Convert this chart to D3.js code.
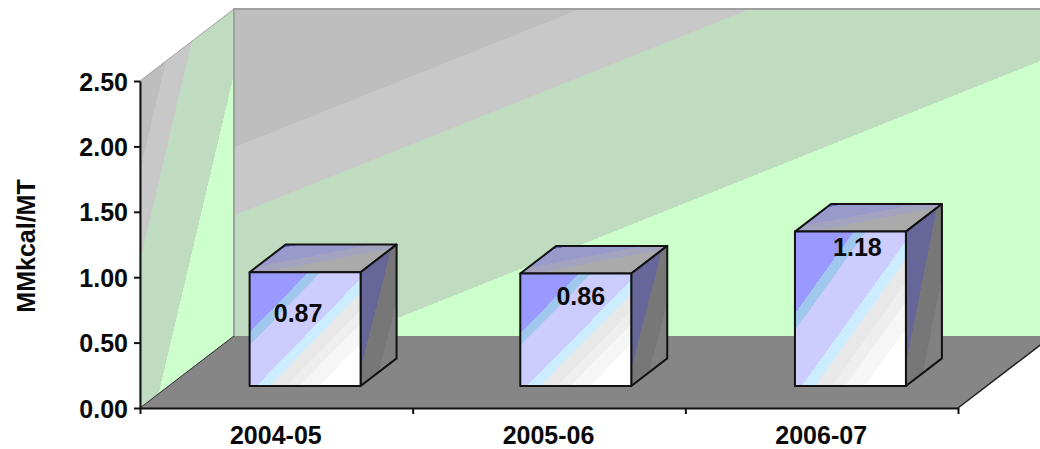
<!DOCTYPE html>
<html>
<head>
<meta charset="utf-8">
<script src="https://cdn.jsdelivr.net/npm/d3@7/dist/d3.min.js"></script>
<style>
  html, body { margin: 0; padding: 0; background: #fff; }
  svg { display: block; }
  text { font-family: "Liberation Sans", Arial, sans-serif; font-weight: bold; fill: #0a0a0a; font-size: 25px; }
</style>
</head>
<body>
<div id="chart"></div>
<script>
// Energy intensity per year
const categories = ["2004-05", "2005-06", "2006-07"];
const values = [0.87, 0.86, 1.18];
const valueLabels = ["0.87", "0.86", "1.18"];
const yTicks = [0, 0.5, 1, 1.5, 2, 2.5];
const yTitle = "MMkcal/MT";

const width = 1040, height = 449;
const depth = { dx: 94, dy: -72 };           // full floor depth in screen pixels
const barDepth = { front: 0.306, back: 0.689 }; // bar placement along the floor depth

const svg = d3.select("#chart").append("svg").attr("width", width).attr("height", height);
const defs = svg.append("defs");

const y = d3.scaleLinear().domain([0, 2.5]).range([408, 81]);
const x = d3.scaleBand().domain(categories).range([140, 958]).paddingInner(0.593).paddingOuter(0.2965);
const edges = d3.scaleLinear().domain([0, categories.length]).range(x.range());

// Map a front-plane point to its position at a fraction of the floor depth
const project = (px, py, d) => [px + depth.dx * d, py + depth.dy * d];
const poly = pts => pts.map(p => p.join(",")).join(" ");

// Hard-edged gradient: each band is [offset, colour], the colour running up to the next offset
function hardStops(grad, bands) {
  bands.forEach(([t, c], i) => {
    const end = i + 1 < bands.length ? bands[i + 1][0] : 1;
    grad.append("stop").attr("offset", t).attr("stop-color", c);
    grad.append("stop").attr("offset", end).attr("stop-color", c);
  });
}

// Wall shading: straight colour boundaries of a given slope, each passing through a given point
function wallGradient(id, slope, origin, colours, through) {
  const n = Math.hypot(slope, 1), nx = slope / n, ny = 1 / n, L = 1200;
  const off = p => ((p[0] - origin[0]) * nx + (p[1] - origin[1]) * ny) / L;
  const g = defs.append("linearGradient").attr("id", id).attr("gradientUnits", "userSpaceOnUse")
    .attr("x1", origin[0]).attr("y1", origin[1])
    .attr("x2", origin[0] + nx * L).attr("y2", origin[1] + ny * L);
  hardStops(g, colours.map((c, i) => [i === 0 ? 0 : off(through[i - 1]), c]));
}

const wallColours = ["#bebebe", "#c8c8c8", "#c0dcc0", "#ccffcc"];
wallGradient("backWall", 0.4, [234, 10], wallColours, [[235, 147], [235, 215], [693, 200]]);
wallGradient("sideWall", 4.24, [140, 10], wallColours, [[141, 167], [141, 257], [159, 392]]);

// Bar face shading, stretched over each face's bounding box
const faceBands = {
  front: [[0, "#9999ff"], [0.265, "#a0c8ee"], [0.32, "#ccccff"], [0.53, "#ccecff"], [0.59, "#e8e8e8"],
          [0.665, "#eeeeee"], [0.725, "#f6f6f6"], [0.815, "#ffffff"]],
  top:   [[0, "#6666cc"], [0.17, "#9999cc"], [0.42, "#a3a3bf"], [0.55, "#aaaaaa"]],
  side:  [[0, "#666699"], [0.44, "#777777"], [0.7, "#808080"]]
};
Object.entries(faceBands).forEach(([k, bands]) => {
  hardStops(defs.append("linearGradient").attr("id", "face-" + k)
    .attr("x1", 0).attr("y1", 0).attr("x2", 1).attr("y2", 1), bands);
});

const [x0, x1] = x.range(), yBase = y(0), yTop = y(2.5);

// Left wall, back wall, floor
svg.append("polygon").attr("fill", "url(#sideWall)").attr("stroke", "#a0a0a0").attr("stroke-width", 1)
  .attr("points", poly([[x0, yBase], [x0, yTop], project(x0, yTop, 1), project(x0, yBase, 1)]));
svg.append("polygon").attr("fill", "url(#backWall)")
  .attr("points", poly([project(x0, yBase, 1), project(x0, yTop, 1), project(x1, yTop, 1), project(x1, yBase, 1)]));
svg.append("polyline").attr("fill", "none").attr("stroke", "#a0a0a0").attr("stroke-width", 2)
  .attr("points", poly([project(x0, yBase, 1), project(x0, yTop, 1), project(x1, yTop, 1)]));
svg.append("polygon").attr("fill", "#868686")
  .attr("points", poly([[x0, yBase], [x1, yBase], project(x1, yBase, 1), project(x0, yBase, 1)]));
svg.append("polyline").attr("fill", "none").attr("stroke", "#333").attr("stroke-width", 1)
  .attr("points", poly([project(x0, yBase, 1), [x0, yBase]]));
svg.append("polyline").attr("fill", "none").attr("stroke", "#222").attr("stroke-width", 1.5)
  .attr("points", poly([[x1, yBase], project(x1, yBase, 1)]));

// Axes
const yAxis = svg.append("g").attr("transform", `translate(${x0},0)`)
  .call(d3.axisLeft(y).tickValues(yTicks).tickFormat(d3.format(".2f")).tickSize(6).tickSizeOuter(0).tickPadding(6));
yAxis.attr("font-size", null).attr("font-family", null);
yAxis.selectAll("text").attr("dy", "0.36em");
yAxis.selectAll("line,path").attr("stroke", "#111").attr("stroke-width", 2);

const xAxis = svg.append("g").attr("transform", `translate(0,${yBase})`)
  .call(d3.axisBottom(edges).tickValues(d3.range(categories.length + 1)).tickFormat("").tickSize(6).tickSizeOuter(0));
xAxis.selectAll("line,path").attr("stroke", "#111").attr("stroke-width", 2);

svg.append("g").attr("class", "categories").selectAll("text").data(categories).join("text")
  .attr("x", d => x(d) + x.bandwidth() / 2 - 0.5)
  .attr("y", 443.5)
  .attr("text-anchor", "middle")
  .text(d => d);

svg.append("text")
  .attr("transform", "translate(26,246) rotate(-90)")
  .attr("text-anchor", "middle").attr("dy", "0.36em")
  .text(yTitle);

// Bars as boxes standing on the floor
const barNudge = [0, -2, 0];
const labelOffset = [[-7, 41], [5, 23], [7, 15]];
const bars = svg.append("g").selectAll("g").data(values).join("g")
  .attr("stroke", "#111").attr("stroke-width", 2).attr("stroke-linejoin", "round");

bars.each(function (v, i) {
  const g = d3.select(this);
  const l = x(categories[i]) + barNudge[i], r = l + x.bandwidth();
  const fl = d => project(l, y(0), d), fr = d => project(r, y(0), d);
  const tl = d => project(l, y(v), d), tr = d => project(r, y(v), d);
  const { front: a, back: b } = barDepth;
  g.append("polygon").attr("fill", "url(#face-top)").attr("points", poly([tl(a), tr(a), tr(b), tl(b)]));
  g.append("polygon").attr("fill", "url(#face-side)").attr("points", poly([tr(a), tr(b), fr(b), fr(a)]));
  g.append("polygon").attr("fill", "url(#face-front)").attr("points", poly([tl(a), tr(a), fr(a), fl(a)]));
  const [cx, cy] = [(tl(a)[0] + tr(a)[0]) / 2, tl(a)[1]];
  g.append("text")
    .attr("x", cx + labelOffset[i][0]).attr("y", cy + labelOffset[i][1])
    .attr("dy", "0.36em").attr("text-anchor", "middle")
    .attr("stroke", "none")
    .text(valueLabels[i]);
});
</script>
</body>
</html>
